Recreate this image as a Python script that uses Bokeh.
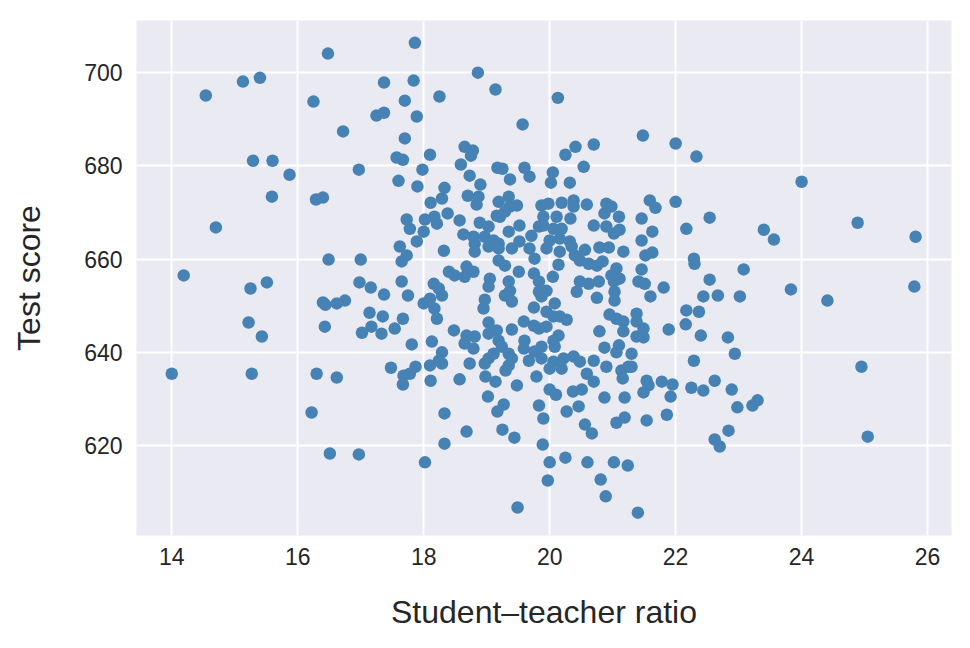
from bokeh.plotting import figure
from bokeh.models import Range1d, FixedTicker
from bokeh.embed import file_html
from bokeh.resources import INLINE

ratio = [
    16.48, 15.13, 15.40, 14.54, 16.25, 16.72, 15.29, 15.60, 15.87,
    17.86, 18.86, 17.37, 17.84, 19.14, 17.70, 18.25, 17.25, 17.37, 17.89, 19.57,
    17.70, 18.65, 18.78, 18.75, 17.57, 17.67, 18.10, 18.59, 19.17, 19.25, 19.60,
    19.68, 16.97, 17.98, 18.73, 17.60, 17.90, 18.33, 18.90, 19.37,
    20.13, 21.48, 22.00, 22.33, 20.41, 20.70, 20.25, 20.54, 20.05, 20.02, 20.32,
    24.00,
    15.59, 16.29, 16.40, 14.70, 16.49, 14.19, 15.25, 15.51, 16.40, 16.44, 16.62,
    15.22, 15.43, 16.43,
    18.11, 18.29, 18.70, 18.87, 18.84, 19.19, 19.16, 19.35, 19.37, 19.48, 19.87,
    17.73, 17.78, 18.02, 18.17, 18.21, 18.38, 18.57, 18.89, 19.03, 19.21, 19.29,
    19.52, 18.00, 17.89, 18.63, 18.79, 18.97, 19.11, 19.19, 19.35, 19.71, 19.83,
    17.62, 18.81, 18.81, 19.03, 19.19, 19.40, 19.52, 19.68, 19.90, 19.90, 17.73,
    17.65, 18.32, 17.00, 19.19, 19.29, 19.51, 19.76, 19.75, 18.40, 18.49, 18.68,
    18.79, 18.65, 19.05, 19.03, 19.35, 19.37, 19.83, 19.83, 19.87, 17.65, 16.98,
    17.16, 17.37, 17.75, 18.16, 18.24, 18.29, 18.00, 18.10, 16.75, 18.97, 18.95,
    19.29, 19.40, 18.17, 18.21, 19.75, 17.14, 17.35, 17.67, 17.54, 17.17, 17.02,
    17.33, 18.48, 19.03, 19.16, 18.68, 18.81, 18.65, 18.79, 19.40, 19.59, 19.75,
    19.83, 17.81, 18.13, 18.29, 18.24, 19.03, 19.19, 19.24, 19.35, 19.40, 19.60,
    19.59, 19.76, 19.87, 17.48, 17.87, 18.10, 18.29, 18.73, 18.97, 19.03, 19.11,
    19.35, 19.67, 19.87,
    19.98, 20.19, 20.38, 20.38, 20.59, 20.90, 20.98, 20.87, 21.10, 21.59, 21.68,
    22.00, 20.11, 20.33, 21.46, 22.54, 20.70, 20.90, 21.02, 21.11, 21.63, 22.17,
    20.06, 20.19, 20.00, 20.16, 20.32, 21.46, 19.95, 20.16, 20.35, 20.56, 20.79,
    20.94, 21.17, 21.52, 21.63, 22.29, 22.30, 20.14, 20.40, 20.48, 20.62, 20.75,
    20.84, 21.06, 20.98, 21.11, 21.46, 23.08, 20.05, 20.48, 20.62, 20.78, 21.02,
    21.03, 21.41, 21.51, 21.81, 22.54, 19.95, 20.43, 20.75, 21.03, 21.60, 22.44,
    22.67, 23.02, 20.08, 19.95, 20.06, 20.16, 20.27, 20.95, 21.06, 21.17, 21.38,
    21.38, 22.17, 22.37, 19.95, 20.14, 20.06, 20.79, 21.17, 21.49, 21.38, 21.49,
    21.89, 22.16, 22.40, 22.83, 20.08, 20.87, 21.10, 21.06, 21.30, 22.94, 22.29,
    20.06, 20.22, 20.38, 20.48, 20.70, 20.90, 21.25, 21.30,
    23.40, 23.56, 24.89, 25.81, 23.83, 24.41, 25.79, 24.95,
    14.00, 15.27, 16.30, 16.62, 16.22, 16.51,
    17.68, 17.78, 17.67, 18.11, 18.57, 18.98, 19.14, 19.30, 19.48, 19.79, 19.02,
    19.27, 19.17, 18.33, 18.68, 19.25, 19.44, 18.33, 16.97, 18.02, 19.49, 19.83,
    19.90, 19.89,
    20.00, 20.19, 20.59, 20.70, 21.14, 21.16, 21.54, 21.57, 21.49, 21.78, 21.95,
    21.92, 22.25, 22.44, 22.62, 22.89, 22.98, 23.22, 20.00, 20.10, 20.37, 20.51,
    20.87, 21.19, 20.27, 20.46, 20.56, 20.67, 21.06, 21.19, 21.54, 21.86, 22.84,
    22.62, 22.70, 20.00, 20.25, 20.60, 21.02, 21.24, 19.97, 20.81, 20.89, 21.40,
    23.30, 25.05,
]

score = [
    704.1, 698.1, 698.9, 695.1, 693.8, 687.4, 681.1, 681.1, 678.1,
    706.4, 700.0, 697.9, 698.3, 696.4, 694.0, 694.9, 690.8, 691.4, 690.6, 688.9,
    685.9, 684.1, 683.3, 682.2, 681.8, 681.3, 682.4, 680.3, 679.6, 679.4, 679.6,
    677.7, 679.2, 679.2, 677.9, 676.8, 675.6, 675.3, 676.0, 677.1,
    694.6, 686.5, 684.8, 682.0, 684.1, 684.6, 682.4, 679.8, 678.6, 676.4, 676.4,
    676.6,
    673.4, 672.8, 673.2, 666.8, 659.9, 656.5, 653.7, 655.0, 650.7, 650.2, 650.5,
    646.4, 643.4, 645.5,
    672.1, 673.0, 673.6, 673.4, 671.7, 672.3, 669.3, 673.4, 671.3, 671.5, 671.5,
    668.5, 666.5, 668.5, 669.1, 667.6, 669.8, 668.3, 667.8, 667.0, 669.1, 670.2,
    667.2, 665.9, 663.8, 665.3, 664.8, 664.8, 664.0, 663.3, 665.9, 665.0, 667.0,
    662.7, 663.3, 661.6, 662.7, 662.3, 662.3, 663.8, 662.3, 667.2, 669.1, 660.8,
    659.5, 661.8, 659.9, 659.7, 658.6, 657.3, 660.1, 656.9, 657.3, 656.5, 658.4,
    657.3, 656.2, 655.8, 654.1, 655.2, 653.2, 655.2, 653.0, 652.0, 655.2, 655.0,
    653.9, 652.4, 652.2, 654.7, 653.7, 652.2, 650.5, 651.5, 651.1, 651.3, 649.4,
    652.2, 650.9, 649.4, 647.2, 649.6, 648.5, 647.7, 647.2, 645.1, 645.5, 644.2,
    644.0, 644.7, 646.4, 644.7, 643.6, 643.4, 641.9, 640.8, 644.9, 646.6, 645.7,
    645.1, 641.7, 642.3, 640.0, 638.2, 644.0, 642.5, 641.2, 639.7, 638.7, 642.5,
    640.8, 640.2, 641.2, 636.7, 636.9, 637.2, 637.6, 637.6, 637.6, 638.7, 639.7,
    637.2, 638.2, 638.7,
    671.9, 672.1, 672.6, 671.3, 671.7, 671.9, 671.3, 669.8, 669.1, 672.6, 671.0,
    672.3, 669.1, 668.7, 668.7, 668.9, 667.2, 667.0, 665.5, 666.3, 665.9, 666.5,
    666.5, 666.5, 664.0, 664.4, 663.8, 664.0, 662.3, 661.6, 662.7, 662.0, 662.5,
    662.5, 661.6, 660.8, 661.4, 660.1, 659.0, 658.8, 660.8, 659.7, 659.0, 658.6,
    659.5, 658.0, 656.5, 655.8, 657.8, 657.8, 656.2, 655.2, 654.7, 655.2, 655.2,
    653.0, 655.2, 654.7, 653.9, 655.6, 653.2, 653.0, 651.7, 651.1, 652.0, 652.0,
    652.2, 652.0, 650.5, 648.7, 647.7, 647.7, 647.0, 648.1, 647.2, 646.6, 648.3,
    646.6, 649.0, 648.7, 645.5, 643.6, 642.5, 644.5, 644.5, 645.1, 643.4, 643.2,
    644.9, 646.0, 643.6, 643.2, 641.2, 641.0, 641.5, 640.0, 639.7, 639.7, 638.2,
    638.0, 638.7, 639.1, 638.0, 638.2, 636.9, 636.9, 636.9,
    666.3, 664.2, 667.8, 664.8, 653.5, 651.1, 654.1, 636.9,
    635.4, 635.4, 635.4, 634.6, 627.1, 618.3,
    635.0, 635.4, 633.1, 633.9, 634.2, 634.8, 633.7, 636.1, 632.9, 634.8, 630.5,
    628.8, 627.3, 626.9, 623.0, 623.4, 621.7, 620.4, 618.1, 616.4, 606.7, 628.6,
    625.8, 620.2,
    636.5, 636.5, 635.4, 633.7, 636.1, 634.4, 633.9, 632.9, 631.4, 633.7, 633.1,
    630.5, 632.4, 631.8, 633.9, 632.0, 628.2, 628.6, 632.0, 630.9, 631.6, 632.0,
    630.3, 630.3, 627.3, 628.4, 624.5, 622.6, 624.9, 626.0, 625.4, 626.6, 623.2,
    621.3, 619.8, 616.4, 617.4, 616.4, 616.4, 615.7, 612.5, 612.7, 609.1, 605.6,
    629.7, 621.9,
]

x_ticks = [14, 16, 18, 20, 22, 24, 26]
y_ticks = [620, 640, 660, 680, 700]

FONT = "Liberation Sans"
TXT = "#262626"

p = figure(width=962, height=640, output_backend="svg", toolbar_location=None,
           x_range=Range1d(13.44, 26.38), y_range=Range1d(600.7, 711.2),
           min_border_left=136, min_border_right=11, min_border_top=20,
           min_border_bottom=105)
p.background_fill_color = "#EAEAF2"
p.border_fill_color = "white"
p.outline_line_color = None

p.xgrid.ticker = FixedTicker(ticks=x_ticks)
p.ygrid.ticker = FixedTicker(ticks=y_ticks)
p.grid.grid_line_color = "white"
p.grid.grid_line_width = 2

p.xaxis.ticker = FixedTicker(ticks=x_ticks)
p.yaxis.ticker = FixedTicker(ticks=y_ticks)
for ax in (p.xaxis, p.yaxis):
    ax.axis_line_color = None
    ax.major_tick_line_color = None
    ax.minor_tick_line_color = None
    ax.major_label_text_font = FONT
    ax.major_label_text_font_size = "23px"
    ax.major_label_text_color = TXT
    ax.axis_label_text_font = FONT
    ax.axis_label_text_font_size = "32px"
    ax.axis_label_text_font_style = "normal"
    ax.axis_label_text_color = TXT
p.xaxis.major_label_standoff = 6
p.yaxis.major_label_standoff = 8
p.xaxis.axis_label = "Student\u2013teacher ratio"
p.yaxis.axis_label = "Test score"
p.xaxis.axis_label_standoff = 26
p.yaxis.axis_label_standoff = 34

p.scatter(ratio, score, size=12.5, fill_color="#4682B4", line_color=None)

open("out.html", "w").write(file_html(p, INLINE))
